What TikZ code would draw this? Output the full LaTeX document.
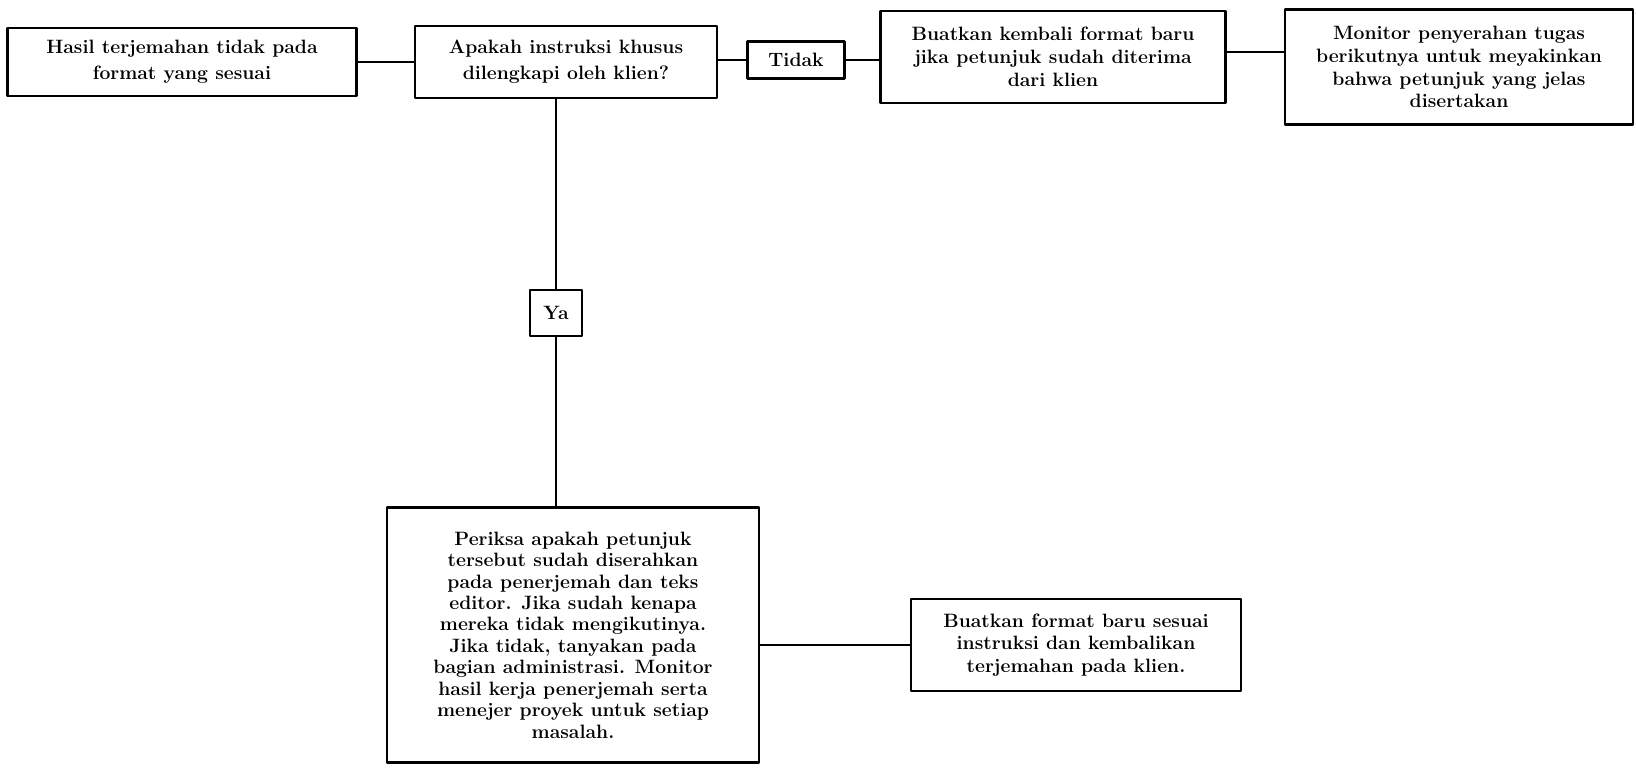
\documentclass[tikz,border=0pt]{standalone}
\usetikzlibrary{positioning}

\begin{document}
\begin{tikzpicture}[x=0.02cm,y=-0.02cm,line join=round,
    kotak/.style={draw,line width=1.6pt,inner sep=0pt,align=center,
      font=\fontsize{11}{13}\selectfont\bfseries},
    garis/.style={line width=1.6pt}]
      \useasboundingbox (0,0) rectangle (1636,768);
      % baris atas
      \node[kotak,minimum width=349*0.02cm,minimum height=68*0.02cm,
        font=\fontsize{11}{14.8}\selectfont\bfseries] (hasil) at (182,62)
        {Hasil terjemahan tidak pada\\format yang sesuai};
      \node[kotak,minimum width=302*0.02cm,minimum height=72*0.02cm,
        font=\fontsize{11}{14.8}\selectfont\bfseries] (tanya) at (566,62)
        {Apakah instruksi khusus\\dilengkapi oleh klien?};
      \node[kotak,minimum width=97*0.02cm,minimum height=37*0.02cm] (tidak) at (796,60) {Tidak};
      \node[kotak,minimum width=345*0.02cm,minimum height=92*0.02cm] (ulang) at (1053,57)
        {Buatkan kembali format baru\\jika petunjuk sudah diterima\\dari klien};
      \node[kotak,minimum width=348*0.02cm,minimum height=115*0.02cm] (pantau) at (1459,67)
        {Monitor penyerahan tugas\\berikutnya untuk meyakinkan\\bahwa petunjuk yang jelas\\disertakan};
      % cabang ya
      \node[kotak,minimum width=52*0.02cm,minimum height=46*0.02cm] (ya) at (556,313) {Ya};
      \node[kotak,minimum width=372*0.02cm,minimum height=255*0.02cm,
        font=\fontsize{11}{12.2}\selectfont\bfseries] (periksa) at (573,635)
        {Periksa apakah petunjuk\\tersebut sudah diserahkan\\pada penerjemah dan teks\\editor. Jika sudah kenapa\\mereka tidak mengikutinya.\\Jika tidak, tanyakan pada\\bagian administrasi. Monitor\\hasil kerja penerjemah serta\\menejer proyek untuk setiap\\masalah.};
      \node[kotak,minimum width=330*0.02cm,minimum height=92*0.02cm] (kirim) at (1076,645)
        {Buatkan format baru sesuai\\instruksi dan kembalikan\\terjemahan pada klien.};
      % penghubung
      \draw[garis] (hasil.east) -- (tanya.west);
      \draw[garis] (tanya.east |- tidak.west) -- (tidak.west);
      \draw[garis] (tidak.east) -- (ulang.west |- tidak.east);
      \draw[garis] (ulang.east |- 0,52) -- (pantau.west |- 0,52);
      \draw[garis] (ya.north |- tanya.south) -- (ya.north);
      \draw[garis] (ya.south) -- (ya.south |- periksa.north);
      \draw[garis] (periksa.east |- kirim.west) -- (kirim.west);
    \end{tikzpicture}
\end{document}
